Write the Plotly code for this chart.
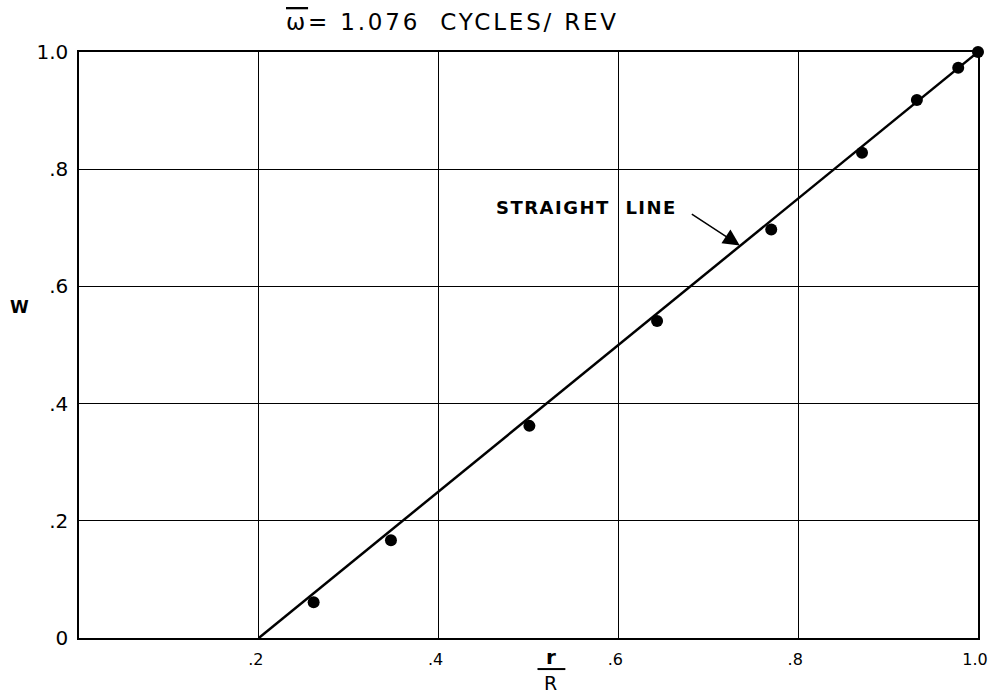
import plotly.graph_objects as go

# measured blade stations (r/R) and relative deflection W
r_over_R = [0.261, 0.347, 0.501, 0.643, 0.770, 0.871, 0.932, 0.978, 1.0]
w_values = [0.061, 0.167, 0.362, 0.541, 0.697, 0.828, 0.918, 0.973, 1.0]

# reference straight line from r/R = .2 to the tip
line_x = [0.2, 1.0]
line_y = [0.0, 1.0]

x_ticks = [0.2, 0.4, 0.6, 0.8, 1.0]
x_tick_text = [".2", ".4", ".6", ".8", "1.0"]
y_ticks = [0, 0.2, 0.4, 0.6, 0.8, 1.0]
y_tick_text = ["0", ".2", ".4", ".6", ".8", "1.0"]

FONT = "DejaVu Sans"

fig = go.Figure()
fig.add_trace(go.Scatter(
    x=line_x, y=line_y, mode="lines",
    line=dict(color="black", width=2.5), showlegend=False, hoverinfo="skip"))
fig.add_trace(go.Scatter(
    x=r_over_R, y=w_values, mode="markers",
    marker=dict(color="black", size=12), showlegend=False, cliponaxis=False))

fig.update_layout(
    width=993, height=696,
    margin=dict(l=79, r=15, t=52, b=58, autoexpand=False),
    paper_bgcolor="white", plot_bgcolor="white",
    font=dict(family=FONT, color="black", size=17),
    xaxis=dict(range=[0, 1], tickvals=x_ticks, ticktext=x_tick_text,
               showgrid=True, gridcolor="black", gridwidth=1.2,
               showline=True, linecolor="black", linewidth=1.5, mirror=True,
               zeroline=False, ticks="", ticklabelstandoff=6, ticklabelshift=-3,
               automargin=False, tickfont=dict(size=16)),
    yaxis=dict(range=[0, 1], tickvals=y_ticks, ticktext=y_tick_text,
               showgrid=True, gridcolor="black", gridwidth=1.2,
               showline=True, linecolor="black", linewidth=1.5, mirror=True,
               zeroline=False, ticks="", ticklabelstandoff=5,
               automargin=False, tickfont=dict(size=20)),
)

# title
fig.add_annotation(
    xref="paper", yref="paper", x=0.415, y=1.0, yshift=30,
    text="<span style='letter-spacing:2.8px'><span style='text-decoration:overline'>ω</span>"
         "= 1.076  CYCLES/ REV</span>",
    showarrow=False, font=dict(size=23), xanchor="center", yanchor="middle")

# axis titles
fig.add_annotation(xref="paper", yref="paper", x=0, y=0.564, xshift=-60,
                   xanchor="center", yanchor="middle",
                   text="<b>W</b>", showarrow=False, font=dict(size=17))
fig.add_annotation(xref="paper", yref="paper", x=0.525, y=0, yshift=-19,
                   xanchor="center", yanchor="middle",
                   text="<b>r</b>", showarrow=False, font=dict(size=20))
fig.add_annotation(xref="paper", yref="paper", x=0.525, y=0, yshift=-45,
                   xanchor="center", yanchor="middle",
                   text="R", showarrow=False, font=dict(size=19))
fig.add_shape(type="line", xref="paper", yref="paper",
              x0=0.510, x1=0.541, y0=-0.053, y1=-0.053,
              line=dict(color="black", width=2))

# label and arrow pointing onto the straight line
fig.add_annotation(
    x=0.565, y=0.735, text="<span style='letter-spacing:1.5px'><b>STRAIGHT  LINE</b></span>",
    showarrow=False, font=dict(size=18), xanchor="center", yanchor="middle")
fig.add_annotation(
    x=0.735, y=0.670, ax=0.680, ay=0.725, axref="x", ayref="y",
    text="", showarrow=True,
    arrowhead=2, arrowsize=2.2, arrowwidth=1.5, arrowcolor="black")

fig.write_html("out.html")
